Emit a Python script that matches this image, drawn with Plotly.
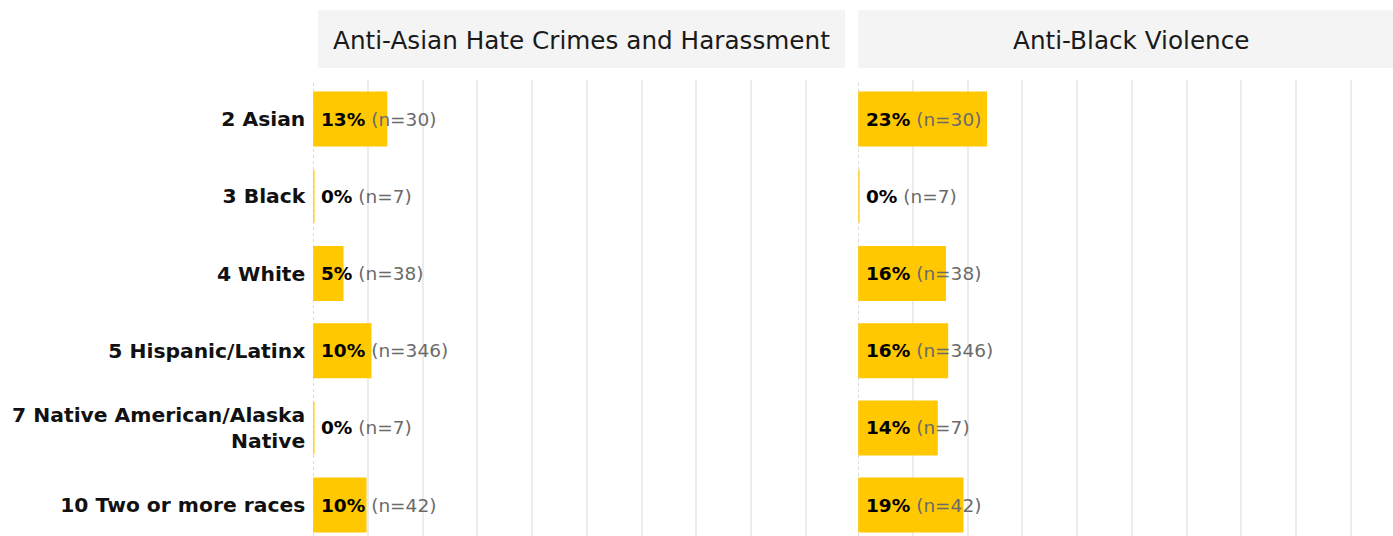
import plotly.graph_objects as go

categories = ["2 Asian", "3 Black", "4 White", "5 Hispanic/Latinx",
              "7 Native American/Alaska<br>Native", "10 Two or more races"]
n_counts = [30, 7, 38, 346, 7, 42]
panel_titles = ["Anti-Asian Hate Crimes and Harassment", "Anti-Black Violence"]
anti_asian_pct = [13.3, 0.0, 5.3, 10.4, 0.0, 9.5]
anti_black_pct = [23.3, 0.0, 15.8, 16.2, 14.3, 19.0]
grid_ticks = [10, 20, 30, 40, 50, 60, 70, 80, 90]

W, H = 1393, 536
BAR = "#FFC800"
FONT = "DejaVu Sans"

fig = go.Figure()

plot_top = 80
panels = [
    dict(x0=313.3, x1=845.0, strip0=318.0, strip1=845.0, title_cx=581.5,
         vals=anti_asian_pct, xa="x", ya="y"),
    dict(x0=858.3, x1=1393.0, strip0=858.3, strip1=1393.0, title_cx=1131.5,
         vals=anti_black_pct, xa="x2", ya="y2"),
]
px_per_pct = (845.0 - 313.3) / 97.2

for i, p in enumerate(panels):
    fig.add_trace(go.Bar(
        y=categories, x=p["vals"], orientation="h",
        marker=dict(color=BAR, line=dict(color=BAR, width=2.5)),
        width=0.68, xaxis=p["xa"], yaxis=p["ya"], hoverinfo="skip",
        showlegend=False,
    ))
    for cat, v, n in zip(categories, p["vals"], n_counts):
        fig.add_annotation(
            x=0, y=cat, xref=p["xa"], yref=p["ya"], xanchor="left", yanchor="middle",
            xshift=6, showarrow=False,
            text=f"<b>{round(v):.0f}%</b> <span style='color:#6b6b6b'>(n={n})</span>",
            font=dict(family=FONT, size=18.5, color="#000000"),
        )
    # dashed zero line
    fig.add_shape(type="line", xref=p["xa"], yref=f"{p['ya']} domain", x0=0, x1=0, y0=0, y1=1,
                  line=dict(color="#bdbdbd", width=1, dash="3px,3px"), layer="below")
    # strip
    fig.add_shape(type="rect", xref="paper", yref="paper",
                  x0=p["strip0"] / W, x1=p["strip1"] / W,
                  y0=(H - 68) / H, y1=(H - 10) / H,
                  fillcolor="#f4f4f4", line=dict(width=0), layer="below")
    fig.add_annotation(x=p["title_cx"] / W, y=(H - 40) / H,
                       xref="paper", yref="paper", xanchor="center", yanchor="middle",
                       showarrow=False, text=panel_titles[i],
                       font=dict(family=FONT, size=24.7, color="#1a1a1a"))

ydom = [0, (H - plot_top) / H]
yrange = [5.40, -0.505]

fig.update_layout(
    width=W, height=H, margin=dict(l=0, r=0, t=0, b=0),
    paper_bgcolor="white", plot_bgcolor="white",
    font=dict(family=FONT),
    xaxis=dict(domain=[313.3 / W, 845.0 / W], range=[0, (845.0 - 313.3) / px_per_pct],
               tickvals=grid_ticks, showticklabels=False, showgrid=True,
               gridcolor="#ececec", gridwidth=1.5, zeroline=False, showline=False, ticks=""),
    xaxis2=dict(domain=[858.3 / W, 1.0], range=[0, (1393.0 - 858.3) / px_per_pct],
                tickvals=grid_ticks, showticklabels=False, showgrid=True,
                gridcolor="#ececec", gridwidth=1.5, zeroline=False, showline=False, ticks=""),
    yaxis=dict(domain=ydom, range=yrange, type="category",
               categoryorder="array", categoryarray=categories,
               showgrid=False, zeroline=False, ticks="", ticklabelstandoff=7,
               tickfont=dict(family=FONT, size=20.3, color="#111111", weight="bold"),
               anchor="x"),
    yaxis2=dict(domain=ydom, range=yrange, type="category",
                categoryorder="array", categoryarray=categories,
                showgrid=False, zeroline=False, ticks="", showticklabels=False,
                anchor="x2", matches="y"),
)

fig.write_html("out.html", config={"displayModeBar": False},
               post_script="document.body.style.margin='0';document.body.style.overflow='hidden';")
